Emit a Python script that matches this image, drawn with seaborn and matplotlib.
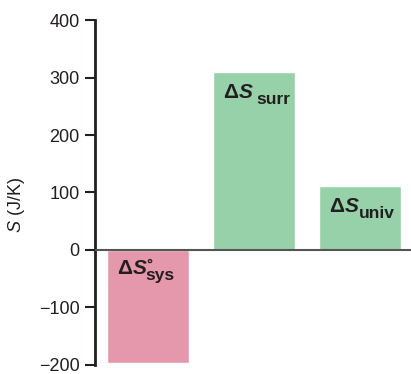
import matplotlib
matplotlib.use("Agg")
import matplotlib.pyplot as plt
import seaborn as sns
import pandas as pd

# values
categories = ["sys", "surr", "univ"]
values = [-197, 309, 111]
subscripts = ["sys", "surr", "univ"]
bar_colors = ["#e597ab", "#97d1a9", "#97d1a9"]
yticks = [-200, -100, 0, 100, 200, 300, 400]

sns.set_style("white")
plt.rcParams["font.family"] = ["Liberation Sans", "DejaVu Sans"]
plt.rcParams["mathtext.fontset"] = "custom"
plt.rcParams["mathtext.rm"] = "Liberation Sans:bold"
plt.rcParams["mathtext.it"] = "Liberation Sans:italic:bold"
plt.rcParams["mathtext.bf"] = "Liberation Sans:bold"
plt.rcParams["mathtext.sf"] = "Liberation Sans:italic"

df = pd.DataFrame({"cat": categories, "val": values})
ink = "#231f20"

fig = plt.figure(figsize=(4.11, 3.74), dpi=100)
ax = fig.add_axes([0.231, 0.0241, 0.769, 0.9224])

sns.barplot(data=df, x="cat", y="val", hue="cat", palette=bar_colors,
            width=0.774, legend=False, saturation=1, ax=ax)

ax.set_ylim(-200, 400)
ax.set_xlim(-0.5, 2.48)
ax.set_yticks(yticks)
ax.set_yticklabels([str(t).replace("-", "\u2212") for t in yticks])
ax.set_xticks([])
ax.set_xlabel("")
ax.set_ylabel(r"$\mathsf{S}$ (J/K)", fontsize=13, color=ink)
ax.yaxis.set_label_coords(-0.215, 0.465)

ax.axhline(0, color="#555555", lw=1.5, zorder=3)

for s in ["top", "right", "bottom"]:
    ax.spines[s].set_visible(False)
ax.spines["left"].set_linewidth(2)
ax.spines["left"].set_color(ink)
ax.tick_params(axis="y", direction="out", length=7, width=1.5,
               color=ink, labelsize=13, labelcolor=ink, pad=4, left=True)

# labels inside the bars: "ΔS" plus a larger-than-mathtext subscript
sub_dx = [-1.5, 2.0, -1.0]
top_gap = [15, 19, 19]
for i, (v, sub) in enumerate(zip(values, subscripts)):
    top = max(v, 0)
    main = ax.text(i - 0.387 + 0.095, top - top_gap[i], r"$\Delta S$",
                   fontsize=15, color=ink, ha="left", va="top")
    ax.annotate(sub, xy=(1, 0), xycoords=main, xytext=(sub_dx[i], -1.5),
                textcoords="offset points", fontsize=12.5, fontweight="bold",
                color=ink, ha="left", va="baseline")
    if sub == "sys":
        ax.annotate("\u00b0", xy=(1, 1), xycoords=main, xytext=(-1, 0.5),
                    textcoords="offset points", fontsize=11, fontweight="bold",
                    color=ink, ha="left", va="top")

fig.savefig("out.png", dpi=100)
